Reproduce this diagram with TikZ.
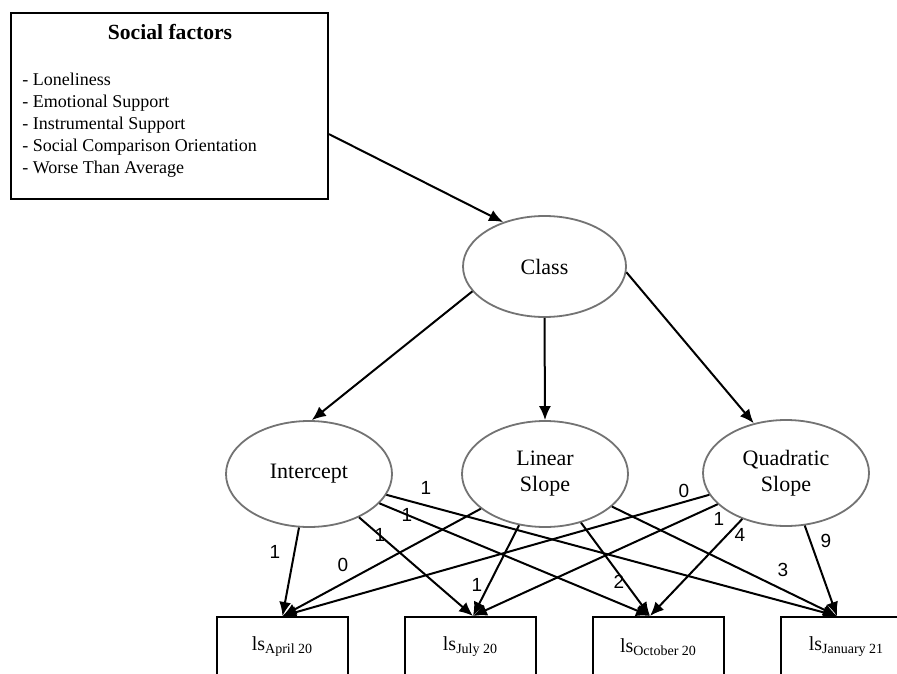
\documentclass[tikz,border=0pt]{standalone}
\usepackage{fontspec}
\setmainfont{Liberation Serif}
\newfontfamily\coeffont{Liberation Sans}
\usetikzlibrary{arrows.meta,shapes.geometric,calc}
\tikzset{
 regr/.style={line width=1pt,-{Latex[length=7pt,width=6pt]}},
 latent/.style={ellipse,draw=black!55,line width=.9pt,fill=white,minimum width=83pt,minimum height=53pt,inner sep=0,align=center,font=\fontsize{11}{13}\selectfont},
 observed/.style={rectangle,draw,line width=1pt,fill=white,minimum width=65.5pt,minimum height=30pt,inner sep=0,font=\fontsize{10}{12}\selectfont},
 factorbox/.style={rectangle,draw,line width=1pt,minimum width=158.5pt,minimum height=93pt,inner sep=0},
 itemlist/.style={align=left,inner sep=0,font=\fontsize{9}{10.9}\selectfont},
 coef/.style={inner sep=1pt,font=\coeffont\fontsize{9.5}{11}\selectfont}
}
\begin{document}
\begin{tikzpicture}[x=.5pt,y=-.5pt]
\clip (0,0) rectangle (897,673);
% social factors
\node[factorbox] (sf) at (169.5,106) {};
\node[font=\bfseries\fontsize{10.8}{13}\selectfont] (sftitle) at (170,32) {Social factors};
\node[itemlist,anchor=north west] (sfitems) at (22,73) {- Loneliness\\- Emotional Support\\- Instrumental Support\\- Social Comparison Orientation\\- Worse Than Average};
% latent variables
\node[latent,minimum width=81.5pt,minimum height=50.5pt] (cls) at (544.5,266.5) {Class};
\node[latent] (ic) at (309,474) {Intercept};
\node[latent] (lin) at (545,474) {Linear\\Slope};
\node[latent] (qs) at (786,473) {Quadratic\\Slope};
% measurements
\node[observed] (apr) at (282.5,647) {ls\textsubscript{April 20}};
\node[observed] (jul) at (470.5,647) {ls\textsubscript{July 20}};
\node[observed] (oct) at (658.5,647) {ls\textsubscript{October 20}};
\node[observed] (jan) at (846.5,647) {ls\textsubscript{January 21}};
% structural part
\draw[regr] (sf.-10) -- (cls.133);
\draw[regr] (cls.199) -- (ic.87);
\draw[regr] (cls.south) -- (lin.north);
\draw[regr] (cls.-4) -- (qs.123);
% loadings
\foreach \src in {ic,lin,qs}{
 \foreach \dst/\dx in {apr/0pt,jul/1.25pt,oct/-4.25pt,jan/-4.75pt}{
  \draw[regr] (\src) -- ([xshift=\dx]\dst.north);
 }
}
\foreach \x/\y/\t [count=\i] in {275/552/1,380/535/1,407/515/1,426/488/1,
  343/565/0,477/585/1,619/582/2,783/570/3,
  684/491/0,719/519/1,740/535/4,826/541/9}{
 \node[coef] (w\i) at (\x,\y) {\t};
}
\end{tikzpicture}
\end{document}
